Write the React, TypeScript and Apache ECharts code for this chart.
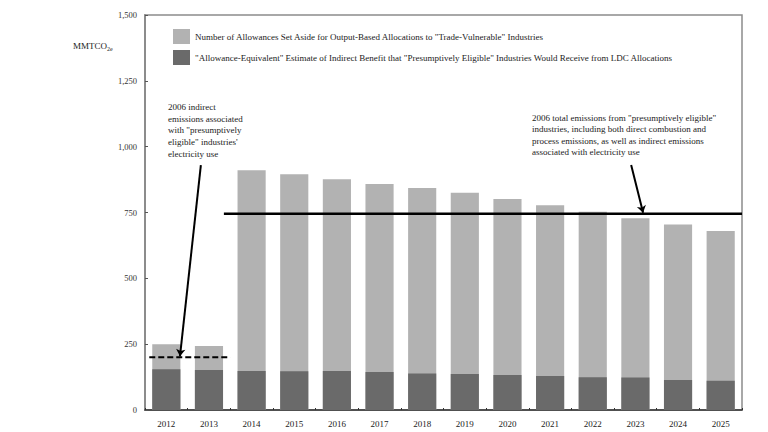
import React, { useEffect, useRef } from "react";
import * as echarts from "echarts";

const years = ["2012","2013","2014","2015","2016","2017","2018","2019","2020","2021","2022","2023","2024","2025"];
const allowancesSetAside = [250, 243, 910, 895, 876, 858, 843, 825, 801, 778, 753, 728, 704, 680];
const indirectBenefit = [155, 152, 148, 147, 148, 144, 139, 137, 133, 129, 124, 123, 114, 111];
const yTicks = [0, 250, 500, 750, 1000, 1250, 1500];
const totalEmissionsLine = [[1.85, 745], [14, 745]];
const indirectEmissionsLine = [[0.1, 200], [2.0, 200]];
const arrowLines = [
  { coords: [[1.31, 930], [0.82, 204]] },
  { coords: [[11.4, 930], [11.68, 749]] },
];
const legendNames = [
  'Number of Allowances Set Aside for Output-Based Allocations to "Trade-Vulnerable" Industries',
  '"Allowance-Equivalent" Estimate of Indirect Benefit that "Presumptively Eligible" Industries Would Receive from LDC Allocations',
];
const leftNote = '2006 indirect\nemissions associated\nwith "presumptively\neligible" industries\'\nelectricity use';
const rightNote = '2006 total emissions from "presumptively eligible"\nindustries, including both direct combustion and\nprocess emissions, as well as indirect emissions\nassociated with electricity use';

const SERIF = '"Liberation Serif", "DejaVu Serif", serif';

export default function App() {
  const ref = useRef<HTMLDivElement>(null);
  useEffect(() => {
    if (!ref.current) return;
    const chart = echarts.init(ref.current, null, { renderer: "svg" });
    chart.setOption({
      animation: false,
      backgroundColor: "#ffffff",
      textStyle: { fontFamily: SERIF },
      grid: { left: 145, top: 15, right: 26, bottom: 22, show: true, borderColor: "#8c8c8c", borderWidth: 1.5 },
      legend: {
        orient: "vertical",
        left: 168,
        top: 24,
        itemWidth: 17,
        itemHeight: 15,
        itemGap: 6,
        icon: "rect",
        textStyle: { fontFamily: SERIF, fontSize: 9, color: "#222" },
        data: legendNames,
      },
      xAxis: [
        {
          type: "category",
          data: years,
          axisLine: { lineStyle: { color: "#333", width: 1.5 } },
          axisTick: { show: true, length: 2, inside: true, lineStyle: { color: "#333" } },
          axisLabel: { fontFamily: SERIF, fontSize: 9, color: "#222", margin: 9 },
        },
        { type: "value", min: 0, max: 14, show: false },
      ],
      yAxis: {
        type: "value",
        min: 0,
        max: 1500,
        interval: 250,
        splitLine: { show: false },
        axisLine: { show: true, lineStyle: { color: "#8c8c8c", width: 2 } },
        axisTick: { show: true, inside: true, length: 3, lineStyle: { color: "#555" } },
        axisLabel: {
          fontFamily: SERIF,
          fontSize: 8.5,
          color: "#333",
          margin: 8,
          formatter: (v: number) => (yTicks.includes(v) ? v.toLocaleString("en-US") : ""),
        },
      },
      graphic: [
        {
          type: "text",
          left: 73,
          top: 41,
          style: {
            text: "{a|MMTCO}{s|2e}",
            rich: {
              a: { fontFamily: SERIF, fontSize: 9, fill: "#222" },
              s: { fontFamily: SERIF, fontSize: 6, fill: "#222", padding: [6, 0, 0, 0] },
            },
          },
        },
        {
          type: "text",
          left: 168,
          top: 101,
          style: { text: leftNote, fontFamily: SERIF, fontSize: 9, lineHeight: 11.7, fill: "#222" },
        },
        {
          type: "text",
          left: 532,
          top: 112,
          style: { text: rightNote, fontFamily: SERIF, fontSize: 9, lineHeight: 11.5, fill: "#222" },
        },
      ],
      series: [
        {
          name: legendNames[0],
          type: "bar",
          data: allowancesSetAside,
          barWidth: "66%",
          barGap: "-100%",
          itemStyle: { color: "#b2b2b2" },
        },
        {
          name: legendNames[1],
          type: "bar",
          data: indirectBenefit,
          barWidth: "66%",
          barGap: "-100%",
          itemStyle: { color: "#6a6a6a" },
        },
        {
          type: "line",
          xAxisIndex: 1,
          data: totalEmissionsLine,
          symbol: "none",
          lineStyle: { color: "#000", width: 2.5 },
          z: 5,
        },
        {
          type: "line",
          xAxisIndex: 1,
          data: indirectEmissionsLine,
          symbol: "none",
          lineStyle: { color: "#000", width: 2, type: [6, 3] },
          z: 5,
        },
        {
          type: "lines",
          coordinateSystem: "cartesian2d",
          xAxisIndex: 1,
          data: arrowLines,
          symbol: ["none", "arrow"],
          symbolSize: 7,
          lineStyle: { color: "#000", width: 2, opacity: 1 },
          z: 6,
        },
      ],
    });
    return () => chart.dispose();
  }, []);
  return <div ref={ref} style={{ position: "fixed", left: 0, top: 0, width: 768, height: 432 }} />;
}
